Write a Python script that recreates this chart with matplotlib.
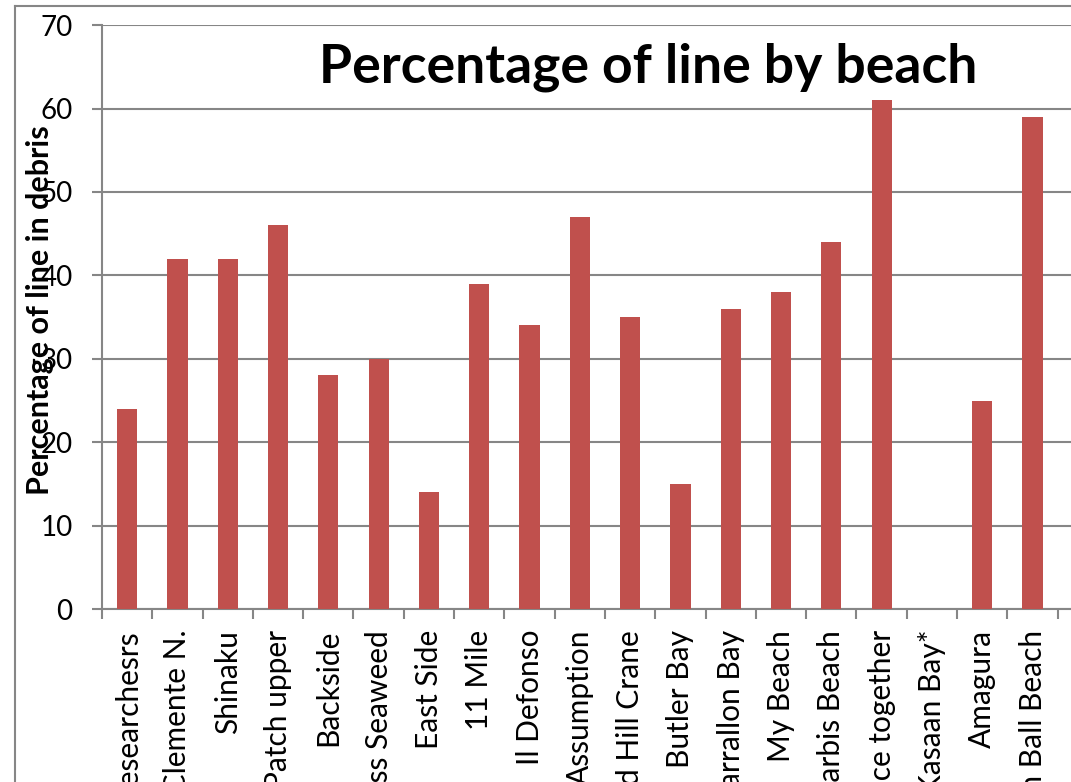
import matplotlib
matplotlib.use("Agg")
import matplotlib.pyplot as plt
from matplotlib.lines import Line2D
import numpy as np

# Share of fishing line in collected debris, per beach
beaches = [
    "Researchesrs", "San Clemente N.", "Shinaku", "Kelp Patch upper", "Backside",
    "Moss Seaweed", "East Side", "11 Mile", "Il Defonso", "Assumption",
    "Sand Hill Crane", "Butler Bay", "Farrallon Bay", "My Beach", "Barbis Beach",
    "Piece together", "Kasaan Bay*", "Amagura", "Cannon Ball Beach",
]
line_pct = [24, 42, 42, 46, 28, 30, 14, 39, 34, 47, 35, 15, 36, 38, 44, 61, 0, 25, 59]
y_ticks = [0, 10, 20, 30, 40, 50, 60, 70]

W, H = 1071, 782
DPI = 100
GRAY = "#868686"
BAR = "#C0504D"
FONT = "Lato"

fig = plt.figure(figsize=(W / DPI, H / DPI), dpi=DPI)
fig.patch.set_facecolor("white")

# plot area in pixel terms
left, right = 102, 1110
top, bottom = 25.2, 609
step = 50.3
ax = fig.add_axes([left / W, 1 - bottom / H, (right - left) / W, (bottom - top) / H])

x = np.arange(len(beaches))
ax.bar(x, line_pct, width=0.4, color=BAR, zorder=3)

ax.set_xlim(-0.5, -0.5 + (right - left) / step)
ax.set_ylim(0, 70)

ax.set_yticks(y_ticks)
ax.set_yticklabels([str(v) for v in y_ticks], fontsize=20, family=FONT)
ax.yaxis.grid(True, color=GRAY, linewidth=1.5, zorder=0)
ax.set_axisbelow(True)

# category boundaries carry the tick marks, labels sit at the centres
ax.set_xticks(np.arange(-0.5, len(beaches), 1.0))
ax.set_xticklabels([])
ax.set_xticks(x, minor=True)
ax.set_xticklabels(beaches, minor=True, rotation=90, fontsize=21.5, family=FONT,
                   ha="center", va="top")
ax.tick_params(axis="x", which="major", length=7.2, width=1.5, color=GRAY, direction="out")
ax.tick_params(axis="x", which="minor", length=0, pad=15)
ax.tick_params(axis="y", length=7.2, width=1.5, color=GRAY, direction="out", pad=14)

for side in ("top", "right"):
    ax.spines[side].set_visible(False)
for side in ("left", "bottom"):
    ax.spines[side].set_color(GRAY)
    ax.spines[side].set_linewidth(1.5)

fig.text(648 / W, 1 - 67 / H, "Percentage of line by beach", fontsize=38.5,
         fontweight="bold", family=FONT, ha="center", va="center")

fig.text(40 / W, 1 - 310 / H, "Percentage of line in debris", fontsize=22,
         fontweight="bold", family=FONT, rotation=90, ha="center", va="center")

# outer chart frame
fig.add_artist(Line2D([14.5 / W, 14.5 / W], [0, 1 - 5.5 / H], transform=fig.transFigure,
                      color=GRAY, linewidth=1.5))
fig.add_artist(Line2D([14.5 / W, 1], [1 - 5.5 / H, 1 - 5.5 / H], transform=fig.transFigure,
                      color=GRAY, linewidth=1.5))

fig.savefig("out.png", dpi=DPI)
